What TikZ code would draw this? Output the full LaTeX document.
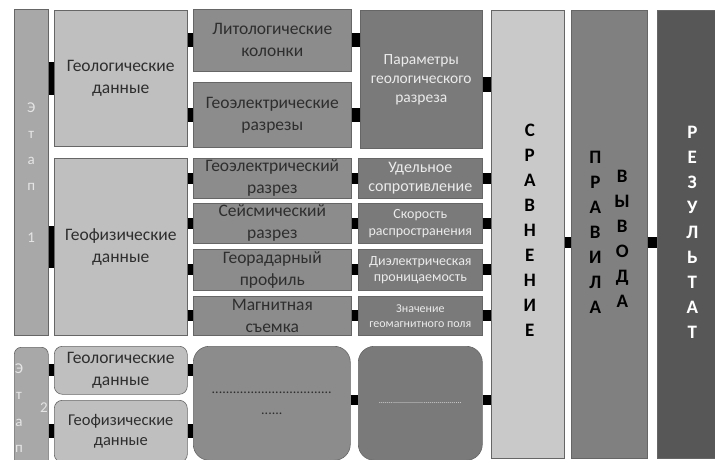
\documentclass[tikz,border=0pt]{standalone}
\usepackage{fontspec}
\setmainfont{Carlito}
\definecolor{stagefill}{gray}{0.66}
\definecolor{boxlight}{gray}{0.75}
\definecolor{boxmid}{gray}{0.55}
\definecolor{boxdark}{gray}{0.48}
\definecolor{comparefill}{gray}{0.79}
\definecolor{rulesfill}{gray}{0.50}
\definecolor{resultfill}{gray}{0.34}
\definecolor{edgegray}{gray}{0.40}
\definecolor{textgray}{gray}{0.18}

\begin{document}
\begin{tikzpicture}[x=1pt,y=-1pt,
  box/.style={draw=edgegray, line width=0.6pt, anchor=north west, inner sep=0pt, align=center, text=textgray},
  stagebox/.style={box, fill=stagefill, text=white!90!black, font=\fontsize{15}{26}\selectfont},
  lightbox/.style={box, fill=boxlight, font=\fontsize{17.5}{22}\selectfont},
  midbox/.style={box, fill=boxmid, font=\fontsize{17.5}{22}\selectfont},
  darkbox/.style={box, fill=boxdark, text=white!92!black},
  colbox/.style={box, minimum height=448pt},
  letters/.style={align=center, inner sep=0pt, font=\bfseries\fontsize{19}{25}\selectfont},
  link/.style={line width=#1, black},
  link/.default=12pt]
  \useasboundingbox (0,0) rectangle (715,460);

  % stage 1, geological data
  \node[stagebox, minimum width=34pt, minimum height=326pt] (stageA) at (14,9) {Э\\т\\а\\п\\[26pt]1};
  \node[lightbox, minimum width=133pt, minimum height=136pt] (geoA) at (54,10) {Геологические\\данные};
  \node[midbox, minimum width=158pt, minimum height=62pt] (litho) at (193,9) {Литологические\\колонки};
  \node[midbox, minimum width=158pt, minimum height=65pt] (elecA) at (193,82) {Геоэлектрические\\разрезы};
  \node[darkbox, minimum width=122pt, minimum height=138pt, font=\fontsize{15.5}{19}\selectfont] (params) at (360,10) {Параметры\\геологического\\разреза};

  % stage 1, geophysical data
  \node[lightbox, minimum width=133pt, minimum height=177pt] (geoB) at (54,158) {Геофизические\\данные};
  \node[midbox, minimum width=158pt, minimum height=40pt] (elecB) at (193,158) {Геоэлектрический\\разрез};
  \node[midbox, minimum width=158pt, minimum height=40pt] (seism) at (193,203) {Сейсмический\\разрез};
  \node[midbox, minimum width=158pt, minimum height=41pt] (radar) at (193,249) {Георадарный\\профиль};
  \node[midbox, minimum width=158pt, minimum height=39pt] (magnet) at (193,296) {Магнитная\\съемка};
  \node[darkbox, minimum width=124pt, minimum height=40pt, font=\fontsize{16}{19}\selectfont] (resist) at (358,158) {Удельное\\сопротивление};
  \node[darkbox, minimum width=124pt, minimum height=40pt, font=\fontsize{14}{17}\selectfont] (speed) at (358,203) {Скорость\\распространения};
  \node[darkbox, minimum width=124pt, minimum height=41pt, font=\fontsize{14}{16}\selectfont] (dielec) at (358,249) {Диэлектрическая\\проницаемость};
  \node[darkbox, minimum width=124pt, minimum height=39pt, font=\fontsize{12}{15}\selectfont] (field) at (358,296) {Значение\\геомагнитного поля};

  % stage 2
  \node[stagebox, rounded corners=7pt, minimum width=34pt, minimum height=125pt] (stageB) at (14,347) {};
  \node[inner sep=0pt, align=center, text=white!90!black, font=\fontsize{15}{26.5}\selectfont] (stageBtxt) at (19,408) {Э\\т\\а\\п};
  \node[inner sep=0pt, text=white!90!black, font=\fontsize{15}{16}\selectfont] (stageBnum) at (44,408) {2};
  \node[lightbox, rounded corners=8pt, minimum width=133pt, minimum height=48pt] (geoC) at (54,346) {Геологические\\данные};
  \node[lightbox, rounded corners=8pt, minimum width=133pt, minimum height=62pt, font=\fontsize{16.5}{20}\selectfont] (geoD) at (54,400) {Геофизические\\данные};
  \node[midbox, rounded corners=16pt, minimum width=157pt, minimum height=114pt, font=\fontsize{14}{21}\selectfont] (blankA) at (193,346) {..................................\\......};
  \node[darkbox, rounded corners=16pt, minimum width=124pt, minimum height=114pt, font=\fontsize{8}{10}\selectfont] (blankB) at (358,346) {.........................................};

  % comparison, rules, result
  \node[colbox, fill=comparefill, minimum width=73pt] (compare) at (491,10) {};
  \node[letters] (compareTxt) at ([xshift=2pt,yshift=4pt]compare.center) {С\\Р\\А\\В\\Н\\Е\\Н\\И\\Е};
  \node[colbox, fill=rulesfill, minimum width=76pt] (rules) at (571,10) {};
  \node[letters] (rulesTxt) at ([xshift=-14pt,yshift=2pt]rules.center) {П\\Р\\А\\В\\И\\Л\\А};
  \node[letters] (outputTxt) at ([xshift=13pt,yshift=-5pt]rules.center) {В\\Ы\\В\\О\\Д\\А};
  \node[colbox, fill=resultfill, minimum width=70pt] (result) at (657,10) {};
  \node[letters, text=white] (resultTxt) at ([yshift=2pt]result.center) {Р\\Е\\З\\У\\Л\\Ь\\Т\\А\\Т};

  % connectors
  \draw[link=33pt] (geoA.west -| stageA.east) -- (geoA.west);
  \draw[link=14pt] (litho.west -| geoA.east) -- (litho.west);
  \draw[link=14pt] (elecA.west -| geoA.east) -- (elecA.west);
  \draw[link=14pt] (litho.east) -- (litho.east -| params.west);
  \draw[link=14pt] (elecA.east) -- (elecA.east -| params.west);
  \draw[link=15pt] ([yshift=-5pt]params.east) -- ([yshift=-5pt]params.east -| compare.west);

  \draw[link=42pt] (geoB.west -| stageA.east) -- (geoB.west);
  \draw[link=11pt] (elecB.west -| geoB.east) -- (elecB.west);
  \draw[link=11pt] (seism.west -| geoB.east) -- (seism.west);
  \draw[link=11pt] (radar.west -| geoB.east) -- (radar.west);
  \draw[link=11pt] (magnet.west -| geoB.east) -- (magnet.west);
  \draw[link=11pt] (elecB.east) -- (resist.west);
  \draw[link=11pt] (seism.east) -- (speed.west);
  \draw[link=11pt] (radar.east) -- (dielec.west);
  \draw[link=11pt] (magnet.east) -- (field.west);
  \draw[link=11pt] (resist.east) -- (resist.east -| compare.west);
  \draw[link=11pt] (speed.east) -- (speed.east -| compare.west);
  \draw[link=11pt] (dielec.east) -- (dielec.east -| compare.west);
  \draw[link=11pt] (field.east) -- (field.east -| compare.west);

  \draw[link] (geoC.west -| stageB.east) -- (geoC.west);
  \draw[link=14pt] (geoD.west -| stageB.east) -- (geoD.west);
  \draw[link] (geoC.east) -- (geoC.east -| blankA.west);
  \draw[link=14pt] (geoD.east) -- (geoD.east -| blankA.west);
  \draw[link=10pt] ([yshift=3pt]blankA.east) -- ([yshift=3pt]blankA.east -| blankB.west);
  \draw[link=10pt] ([yshift=3pt]blankB.east) -- ([yshift=3pt]blankB.east -| compare.west);

  \draw[link=11pt] ([yshift=-8pt]compare.east) -- ([yshift=-8pt]compare.east -| rules.west);
  \draw[link=11pt] ([yshift=-8pt]rules.east) -- ([yshift=-8pt]rules.east -| result.west);
\end{tikzpicture}
\end{document}
